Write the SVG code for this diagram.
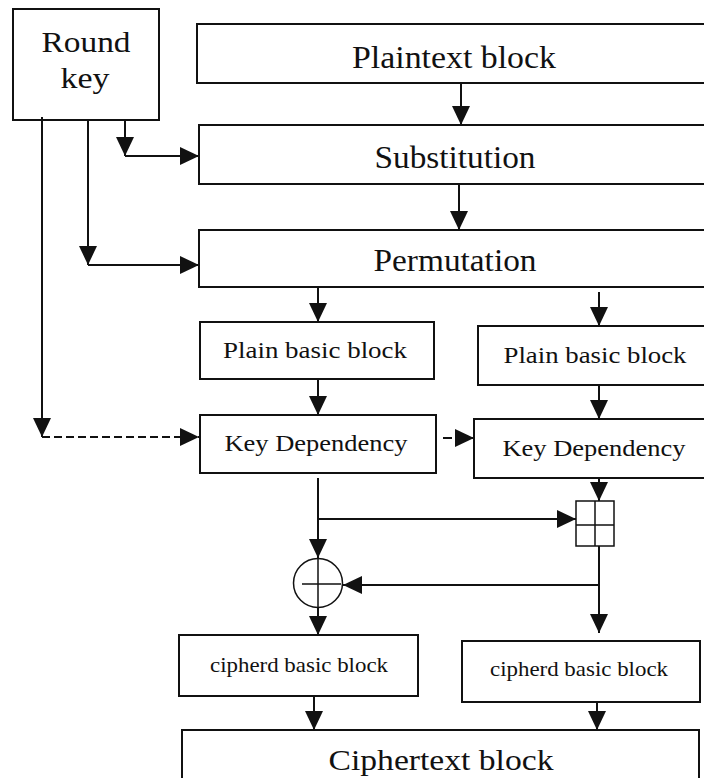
<svg xmlns="http://www.w3.org/2000/svg" width="704" height="778" viewBox="0 0 704 778">
<style>
.box{fill:#fff;stroke:#111;stroke-width:2}
.t{font-family:"Liberation Serif","Times New Roman",serif;fill:#111;text-anchor:middle}
.c{fill:none;stroke:#111;stroke-width:2}
.d{stroke-dasharray:8 4}
</style>
<defs>
<marker id="ah" markerUnits="userSpaceOnUse" markerWidth="19" markerHeight="18" viewBox="0 0 19 18" refX="19" refY="9" orient="auto">
<path d="M0,0 L19,9 L0,18 z" fill="#111"/>
</marker>
</defs>
<rect width="704" height="778" fill="#fff"/>
<g id="round-key"><rect class="box" x="13" y="9" width="146" height="111"/><text class="t" x="86" y="52" font-size="30" textLength="89" lengthAdjust="spacingAndGlyphs">Round</text><text class="t" x="85" y="88" font-size="30" textLength="49" lengthAdjust="spacingAndGlyphs">key</text></g>
<g id="plaintext"><rect class="box" x="197" y="24" width="530" height="59"/><text class="t" x="454" y="68" font-size="31" textLength="204" lengthAdjust="spacingAndGlyphs">Plaintext block</text></g>
<g id="substitution"><rect class="box" x="199" y="125" width="530" height="59"/><text class="t" x="455" y="168" font-size="31" textLength="161" lengthAdjust="spacingAndGlyphs">Substitution</text></g>
<g id="permutation"><rect class="box" x="199" y="230" width="530" height="57"/><text class="t" x="455" y="271" font-size="31" textLength="163" lengthAdjust="spacingAndGlyphs">Permutation</text></g>
<g id="plain-left"><rect class="box" x="200" y="322" width="234" height="57"/><text class="t" x="315" y="358" font-size="24" textLength="184" lengthAdjust="spacingAndGlyphs">Plain basic block</text></g>
<g id="plain-right"><rect class="box" x="478" y="326" width="250" height="59"/><text class="t" x="595" y="363" font-size="24" textLength="183" lengthAdjust="spacingAndGlyphs">Plain basic block</text></g>
<g id="keydep-left"><rect class="box" x="200" y="415" width="236" height="58"/><text class="t" x="316" y="451" font-size="24" textLength="183" lengthAdjust="spacingAndGlyphs">Key Dependency</text></g>
<g id="keydep-right"><rect class="box" x="474" y="419" width="254" height="59"/><text class="t" x="594" y="456" font-size="24" textLength="183" lengthAdjust="spacingAndGlyphs">Key Dependency</text></g>
<g id="combine"><rect x="576" y="501" width="38" height="45" fill="#fff" stroke="#111" stroke-width="1.5"/><path d="M595,501 V546 M576,525 H614" stroke="#111" stroke-width="1.5"/></g>
<g id="xor"><circle cx="318" cy="583" r="24.5" fill="#fff" stroke="#111" stroke-width="1.5"/><path d="M302,584 H341 M318,558 V608" stroke="#111" stroke-width="1.5"/></g>
<g id="cipherd-left"><rect class="box" x="179" y="635" width="239" height="61"/><text class="t" x="299" y="672" font-size="21" textLength="178" lengthAdjust="spacingAndGlyphs">cipherd basic block</text></g>
<g id="cipherd-right"><rect class="box" x="462" y="641" width="238" height="61"/><text class="t" x="579" y="676" font-size="21" textLength="178" lengthAdjust="spacingAndGlyphs">cipherd basic block</text></g>
<g id="ciphertext"><rect class="box" x="182" y="730" width="517" height="70"/><text class="t" x="441" y="770" font-size="30" textLength="225" lengthAdjust="spacingAndGlyphs">Ciphertext block</text></g>
<g id="connectors">
<path class="c" d="M461,83 V125" marker-end="url(#ah)"/>
<path class="c" d="M459,184 V230" marker-end="url(#ah)"/>
<path class="c" d="M125,120 V156" marker-end="url(#ah)"/>
<path class="c" d="M125,156 H199" marker-end="url(#ah)"/>
<path class="c" d="M88,120 V265" marker-end="url(#ah)"/>
<path class="c" d="M88,265 H199" marker-end="url(#ah)"/>
<path class="c" d="M42,117 V437" marker-end="url(#ah)"/>
<path class="c d" d="M42,437 H199" marker-end="url(#ah)"/>
<path class="c" d="M318,287 V322" marker-end="url(#ah)"/>
<path class="c" d="M599,292 V326" marker-end="url(#ah)"/>
<path class="c" d="M318,379 V415" marker-end="url(#ah)"/>
<path class="c" d="M599,385 V419" marker-end="url(#ah)"/>
<path class="c" d="M443,438 H474" stroke-dasharray="9 4" marker-end="url(#ah)"/>
<path class="c" d="M318,478 V558" marker-end="url(#ah)"/>
<path class="c" d="M318,519 H576" marker-end="url(#ah)"/>
<path class="c" d="M599,478 V501" marker-end="url(#ah)"/>
<path class="c" d="M599,546 V633" marker-end="url(#ah)"/>
<path class="c" d="M599,585 H343" marker-end="url(#ah)"/>
<path class="c" d="M318,608 V635" marker-end="url(#ah)"/>
<path class="c" d="M314,696 V730" marker-end="url(#ah)"/>
<path class="c" d="M597,702 V730" marker-end="url(#ah)"/>
</g>
</svg>
